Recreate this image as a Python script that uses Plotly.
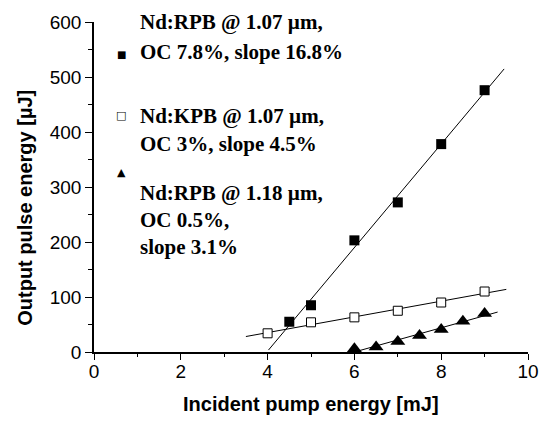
import numpy as np
import plotly.graph_objects as go

# ---- data ----
rpb107_x = [4.5, 5, 6, 7, 8, 9]
rpb107_y = [55, 85, 203, 272, 378, 476]
kpb107_x = [4, 5, 6, 7, 8, 9]
kpb107_y = [34, 54, 63, 75, 90, 110]
rpb118_x = [6, 6.5, 7, 7.5, 8, 8.5, 9]
rpb118_y = [6, 9, 19, 30, 41, 56, 70]
# x-extent of the drawn linear fits
rpb107_fit_range = [4.02, 9.45]
kpb107_fit_range = [3.5, 9.5]
rpb118_fit_range = [6.1, 9.3]

legend_lines = [
    "Nd:RPB @ 1.07 \u00b5m,", "OC 7.8%, slope 16.8%",
    "Nd:KPB @ 1.07 \u00b5m,", "OC 3%, slope 4.5%",
    "Nd:RPB @ 1.18 \u00b5m,", "OC 0.5%,", "slope 3.1%",
]
x_title = "Incident pump energy [mJ]"
y_title = "Output pulse energy [\u00b5J]"

# ---- figure geometry ----
W, H = 551, 421
L, R, T, B = 94, 12, 22, 69
pw, ph = W - L - R, H - T - B

def px(xp):
    return (xp - L) / pw

def py(yp):
    return (H - B - yp) / ph

fig = go.Figure()

def add_fit(xs, ys, rng):
    k, b = np.polyfit(xs, ys, 1)
    xx = np.array(rng)
    fig.add_trace(go.Scatter(x=xx, y=k * xx + b, mode="lines",
                             line=dict(color="black", width=1),
                             showlegend=False, hoverinfo="skip"))

add_fit(rpb107_x, rpb107_y, rpb107_fit_range)
add_fit(kpb107_x, kpb107_y, kpb107_fit_range)
add_fit(rpb118_x, rpb118_y, rpb118_fit_range)

fig.add_trace(go.Scatter(x=rpb107_x, y=rpb107_y, mode="markers",
                         marker=dict(symbol="square", size=10, color="black",
                                     line=dict(width=0)),
                         showlegend=False))
fig.add_trace(go.Scatter(x=kpb107_x, y=kpb107_y, mode="markers",
                         marker=dict(symbol="square", size=9, color="white",
                                     line=dict(width=1, color="black")),
                         showlegend=False))
fig.add_trace(go.Scatter(x=rpb118_x, y=rpb118_y, mode="markers",
                         marker=dict(symbol="triangle-up", size=13, color="black",
                                     line=dict(width=0)),
                         showlegend=False))

annotations = []
serif = dict(family="Liberation Serif, Times New Roman, serif", size=21, color="black")
line_y = [22, 52, 116, 144, 193, 220, 247]
for txt, yp in zip(legend_lines, line_y):
    annotations.append(dict(text="<b>" + txt + "</b>", xref="paper", yref="paper",
                            x=px(139), y=py(yp), xanchor="left", yanchor="middle",
                            showarrow=False, font=serif))

sym_font = dict(family="DejaVu Sans", color="black")
for sym, yp, sz in [("\u25a0", 55, 10), ("\u25a1", 115, 11), ("\u25b2", 172, 11)]:
    annotations.append(dict(text=sym, xref="paper", yref="paper",
                            x=px(122), y=py(yp), xanchor="center", yanchor="middle",
                            showarrow=False, font=dict(size=sz, **sym_font)))

sans_b = dict(family="Liberation Sans, Arial, sans-serif", size=20, color="black")
annotations.append(dict(text="<b>" + x_title + "</b>", xref="paper", yref="paper",
                        x=px(316), y=py(404), xanchor="center", yanchor="middle",
                        showarrow=False, font=sans_b))
annotations.append(dict(text="<b>" + y_title + "</b>", xref="paper", yref="paper",
                        x=px(23), y=py(208), xanchor="center", yanchor="middle",
                        textangle=-90, showarrow=False, font=sans_b))

tick_font = dict(family="Liberation Sans, Arial, sans-serif", size=19, color="black")
fig.update_layout(
    width=W, height=H,
    margin=dict(l=L, r=R, t=T, b=B, pad=0),
    paper_bgcolor="white", plot_bgcolor="white",
    annotations=annotations,
    xaxis=dict(range=[0, 10], dtick=2, tick0=0, showgrid=False, zeroline=False,
               showline=True, linecolor="black", linewidth=1.5,
               ticks="outside", ticklen=6, tickwidth=1.2, tickcolor="black",
               tickfont=tick_font, ticklabelstandoff=-5,
               minor=dict(dtick=1, ticks="outside", ticklen=3, tickwidth=1.2,
                          tickcolor="black", showgrid=False)),
    yaxis=dict(range=[0, 600], dtick=100, tick0=0, showgrid=False, zeroline=False,
               showline=True, linecolor="black", linewidth=1.5,
               ticks="outside", ticklen=7, tickwidth=1.2, tickcolor="black",
               tickfont=tick_font,
               minor=dict(dtick=50, ticks="outside", ticklen=4, tickwidth=1.2,
                          tickcolor="black", showgrid=False)),
)

fig.write_html("out.html")
